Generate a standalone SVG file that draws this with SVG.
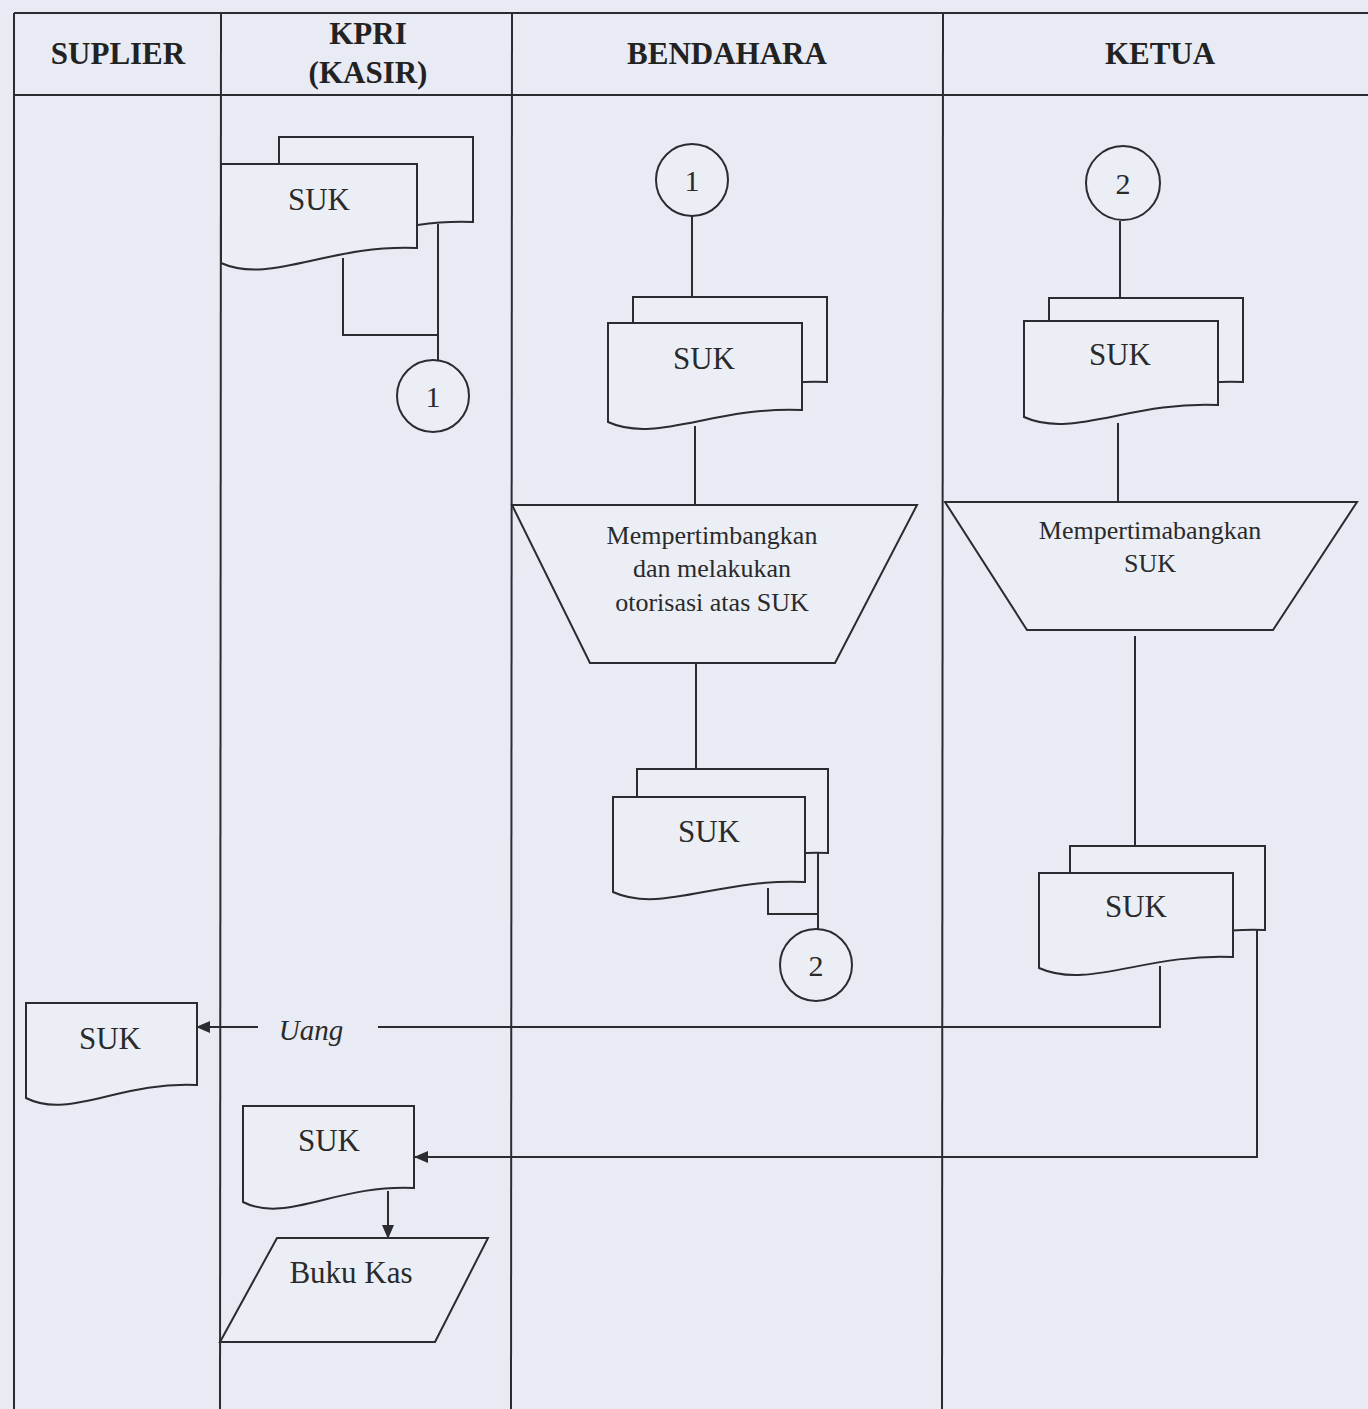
<svg xmlns="http://www.w3.org/2000/svg" width="1368" height="1409" viewBox="0 0 1368 1409">
<defs>
<style>
.ln{stroke:#2b2b30;stroke-width:2;fill:none}
.shape{stroke:#2b2b30;stroke-width:2;fill:#eceef6}
.hd{font-family:"Liberation Serif",serif;font-weight:bold;font-size:31px;fill:#222;text-anchor:middle}
.t{font-family:"Liberation Serif",serif;font-size:31px;fill:#2a2a2a;text-anchor:middle}
.tp{font-family:"Liberation Serif",serif;font-size:26px;fill:#2a2a2a;text-anchor:middle}
.c{font-family:"Liberation Serif",serif;font-size:30px;fill:#2a2a2a;text-anchor:middle}
</style>
<marker id="arr" markerUnits="userSpaceOnUse" markerWidth="14" markerHeight="12" refX="13" refY="6" orient="auto">
<path d="M0,0 L14,6 L0,12 z" fill="#2b2b30"/>
</marker>
</defs>
<rect width="1368" height="1409" fill="#e9ebf4"/>
<g id="lanes">
<line class="ln" x1="14" y1="13" x2="1368" y2="13"/>
<line class="ln" x1="14" y1="95" x2="1368" y2="95"/>
<line class="ln" x1="14" y1="13" x2="14" y2="1409"/>
<line class="ln" x1="221" y1="13" x2="220" y2="1409"/>
<line class="ln" x1="512" y1="13" x2="511" y2="1409"/>
<line class="ln" x1="943" y1="13" x2="942" y2="1409"/>
<text class="hd" x="118" y="64">SUPLIER</text>
<text class="hd" x="368" y="44">KPRI</text>
<text class="hd" x="368" y="83">(KASIR)</text>
<text class="hd" x="727" y="64">BENDAHARA</text>
<text class="hd" x="1160" y="64">KETUA</text>
</g>
<g id="connectors">
<polyline class="ln" points="343,258 343,335 438,335"/>
<line class="ln" x1="438" y1="224" x2="438" y2="360"/>
<line class="ln" x1="692" y1="216" x2="692" y2="297"/>
<line class="ln" x1="695" y1="426" x2="695" y2="505"/>
<line class="ln" x1="696" y1="663" x2="696" y2="769"/>
<polyline class="ln" points="768,888 768,914 818,914"/>
<line class="ln" x1="818" y1="853" x2="818" y2="929"/>
<line class="ln" x1="1120" y1="221" x2="1120" y2="298"/>
<line class="ln" x1="1118" y1="423" x2="1118" y2="502"/>
<line class="ln" x1="1135" y1="636" x2="1135" y2="846"/>
<polyline class="ln" points="1160,966 1160,1027 378,1027"/>
<line class="ln" x1="258" y1="1027" x2="197" y2="1027" marker-end="url(#arr)"/>
<polyline class="ln" points="1257,930 1257,1157 415,1157" marker-end="url(#arr)"/>
<line class="ln" x1="388" y1="1191" x2="388" y2="1238" marker-end="url(#arr)"/>
<text x="311" y="1040" font-family="Liberation Serif, serif" font-style="italic" font-size="29" fill="#2a2a2a" text-anchor="middle">Uang</text>
</g>
<g id="kasir-suk1">
<path class="shape" d="M279,137 H473 V222 C386,218 328,259 279,237 Z"/>
<path class="shape" d="M221,164 H417 V248 C329,244 270,285 221,263 Z"/>
<text class="t" x="319" y="210">SUK</text>
</g>
<g id="kasir-conn1">
<circle class="shape" cx="433" cy="396" r="36"/>
<text class="c" x="433" y="407">1</text>
</g>
<g id="bend-conn1">
<circle class="shape" cx="692" cy="180" r="36"/>
<text class="c" x="692" y="191">1</text>
</g>
<g id="bend-suk1">
<path class="shape" d="M633,297 H827 V382 C740,378 682,419 633,397 Z"/>
<path class="shape" d="M608,323 H802 V410 C715,406 656,444 608,422 Z"/>
<text class="t" x="704" y="369">SUK</text>
</g>
<g id="bend-process">
<path class="shape" d="M512,505 H917 L835,663 H590 Z"/>
<text class="tp" x="712" y="544">Mempertimbangkan</text>
<text class="tp" x="712" y="577">dan melakukan</text>
<text class="tp" x="712" y="611">otorisasi atas SUK</text>
</g>
<g id="bend-suk2">
<path class="shape" d="M637,769 H828 V853 C742,849 685,890 637,868 Z"/>
<path class="shape" d="M613,797 H805 V882 C719,878 661,914 613,892 Z"/>
<text class="t" x="709" y="842">SUK</text>
</g>
<g id="bend-conn2">
<circle class="shape" cx="816" cy="965" r="36"/>
<text class="c" x="816" y="976">2</text>
</g>
<g id="ketua-conn2">
<circle class="shape" cx="1123" cy="183" r="37"/>
<text class="c" x="1123" y="194">2</text>
</g>
<g id="ketua-suk1">
<path class="shape" d="M1049,298 H1243 V382 C1156,378 1098,419 1049,397 Z"/>
<path class="shape" d="M1024,321 H1218 V405 C1131,401 1072,439 1024,417 Z"/>
<text class="t" x="1120" y="365">SUK</text>
</g>
<g id="ketua-process">
<path class="shape" d="M945,502 H1357 L1273,630 H1027 Z"/>
<text class="tp" x="1150" y="539">Mempertimabangkan</text>
<text class="tp" x="1150" y="572">SUK</text>
</g>
<g id="ketua-suk2">
<path class="shape" d="M1070,846 H1265 V930 C1178,926 1119,967 1070,945 Z"/>
<path class="shape" d="M1039,873 H1233 V957 C1146,953 1088,990 1039,968 Z"/>
<text class="t" x="1136" y="917">SUK</text>
</g>
<g id="suplier-suk">
<path class="shape" d="M26,1003 H197 V1085 C120,1081 69,1120 26,1098 Z"/>
<text class="t" x="110" y="1049">SUK</text>
</g>
<g id="kasir-suk2">
<path class="shape" d="M243,1106 H414 V1188 C337,1184 286,1224 243,1202 Z"/>
<text class="t" x="329" y="1151">SUK</text>
</g>
<g id="buku-kas">
<path class="shape" d="M277,1238 H488 L435,1342 H220 Z"/>
<text class="t" x="351" y="1283">Buku Kas</text>
</g>
</svg>
